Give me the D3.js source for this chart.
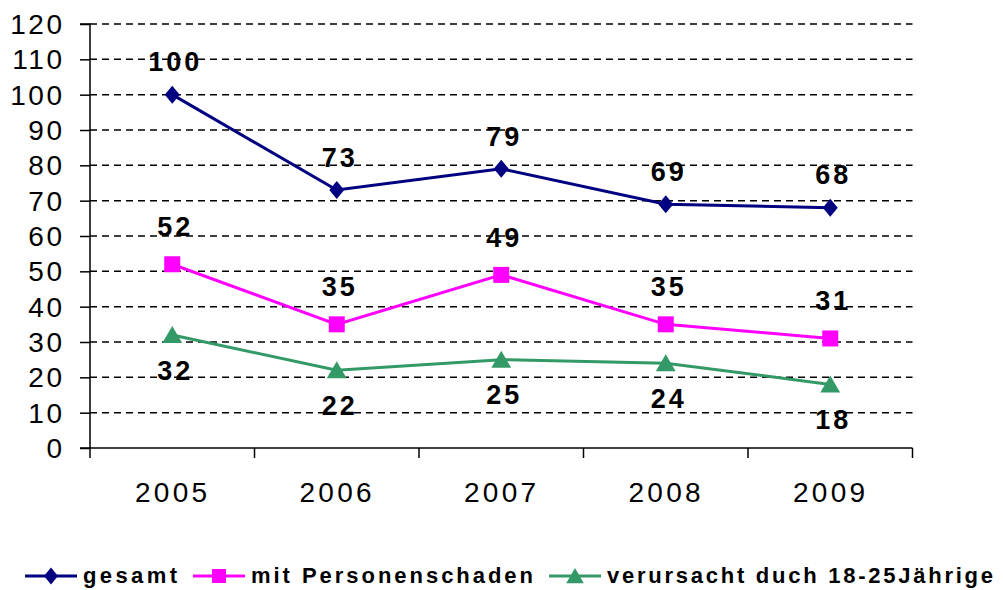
<!DOCTYPE html>
<html><head><meta charset="utf-8">
<script src="https://cdn.jsdelivr.net/npm/d3@7"></script>
<style>
html,body{margin:0;padding:0;background:#fff;}
svg{display:block;font-family:"Liberation Sans",Arial,sans-serif;}
</style></head>
<body>
<svg id="c" width="1003" height="590"></svg>
<script>
const years = ["2005","2006","2007","2008","2009"];
const gesamt = [100, 73, 79, 69, 68];
const personenschaden = [52, 35, 49, 35, 31];
const jugend = [32, 22, 25, 24, 18];
const yTicks = [0,10,20,30,40,50,60,70,80,90,100,110,120];
const seriesNames = ["gesamt","mit Personenschaden","verursacht duch 18-25Jährige"];

const series = [
  {name: seriesNames[0], values: gesamt, color: "#000080", marker: "diamond", labelDy: -33},
  {name: seriesNames[1], values: personenschaden, color: "#FF00FF", marker: "square", labelDy: -38},
  {name: seriesNames[2], values: jugend, color: "#339966", marker: "triangle", labelDy: 35}
];

const svg = d3.select("#c");
const L = 90, R = 912.5, T = 24, B = 448;
const x = d3.scaleBand().domain(years).range([L, R]).padding(0);
const y = d3.scaleLinear().domain([0, 120]).range([B, T]);
const cx = d => x(d) + x.bandwidth() / 2;

// gridlines
svg.append("g").selectAll("line").data(yTicks.filter(v => v > 0)).join("line")
  .attr("x1", L).attr("x2", R).attr("y1", d => y(d)).attr("y2", d => y(d))
  .attr("stroke", "#000").attr("stroke-width", 1.5).attr("stroke-dasharray", "7,5");

// y axis
const yAxis = d3.axisLeft(y).tickValues(yTicks).tickSize(10).tickPadding(18);
const gy = svg.append("g").attr("transform", `translate(${L},0)`).call(yAxis);
gy.select(".domain").attr("stroke", "#000").attr("stroke-width", 1.5).attr("d", `M-10,${T}H0V${B}`);
gy.selectAll(".tick line").attr("stroke", "#000").attr("stroke-width", 1.5);
gy.selectAll(".tick text").attr("font-size", 28).attr("fill", "#000")
  .attr("font-family", "Liberation Sans, Arial, sans-serif").style("letter-spacing", "2.5px")
  .attr("dx", "2.5").attr("dy", "0.34em");

// x axis
const gx = svg.append("g").attr("transform", `translate(0,${B})`);
gx.append("line").attr("x1", L - 10).attr("x2", R).attr("y1", 0).attr("y2", 0)
  .attr("stroke", "#000").attr("stroke-width", 1.5);
const bounds = years.map(d => x(d)).concat([x(years[years.length-1]) + x.bandwidth()]);
gx.selectAll("line.tk").data(bounds).join("line").attr("class", "tk")
  .attr("x1", d => d).attr("x2", d => d).attr("y1", 0).attr("y2", 10)
  .attr("stroke", "#000").attr("stroke-width", 1.5);
gx.selectAll("text").data(years).join("text")
  .attr("x", d => cx(d)).attr("y", 54).attr("text-anchor", "middle")
  .attr("font-size", 28).attr("fill", "#000").style("letter-spacing", "3.3px").attr("dx", "0.5")
  .text(d => d);

function markerPath(type, s) {
  if (type === "diamond") return `M0,${-s*0.6}L${s*0.5},0L0,${s*0.6}L${-s*0.5},0Z`;
  if (type === "square") return `M${-s/2},${-s/2}H${s/2}V${s/2}H${-s/2}Z`;
  return `M0,${-s*0.5}L${s*0.55},${s*0.45}L${-s*0.55},${s*0.45}Z`;
}

const line = d3.line().x((d, i) => cx(years[i])).y(d => y(d));

series.forEach(s => {
  svg.append("path").datum(s.values).attr("d", line)
    .attr("fill", "none").attr("stroke", s.color).attr("stroke-width", 3);
  svg.append("g").selectAll("path").data(s.values).join("path")
    .attr("transform", (d, i) => `translate(${cx(years[i])},${y(d)})`)
    .attr("d", markerPath(s.marker, s.marker === "triangle" ? 18 : (s.marker === "square" ? 16 : 15)))
    .attr("fill", s.color);
  svg.append("g").selectAll("text").data(s.values).join("text")
    .attr("x", (d, i) => cx(years[i]) + 3).attr("y", d => y(d) + s.labelDy)
    .attr("dy", "0.36em").attr("text-anchor", "middle")
    .attr("font-size", 27).attr("font-weight", "bold").attr("fill", "#000")
    .style("letter-spacing", "3px")
    .text(d => d);
});

// legend
const leg = svg.append("g").attr("transform", "translate(0,576)");
let lx = 25;
const textWidths = [94, 282, 386];
series.forEach((s, i) => {
  const g = leg.append("g").attr("transform", `translate(${lx},0)`);
  g.append("line").attr("x1", 0).attr("x2", 52).attr("stroke", s.color).attr("stroke-width", 3);
  g.append("path").attr("transform", "translate(26,0)")
    .attr("d", markerPath(s.marker, s.marker === "triangle" ? 16 : 14)).attr("fill", s.color);
  g.append("text").attr("x", 58).attr("y", 7).attr("font-size", 22).attr("font-weight", "bold")
    .attr("fill", "#000").attr("textLength", textWidths[i]).attr("lengthAdjust", "spacing")
    .text(s.name);
  lx += 58 + textWidths[i] + 16;
});
</script>
</body></html>
